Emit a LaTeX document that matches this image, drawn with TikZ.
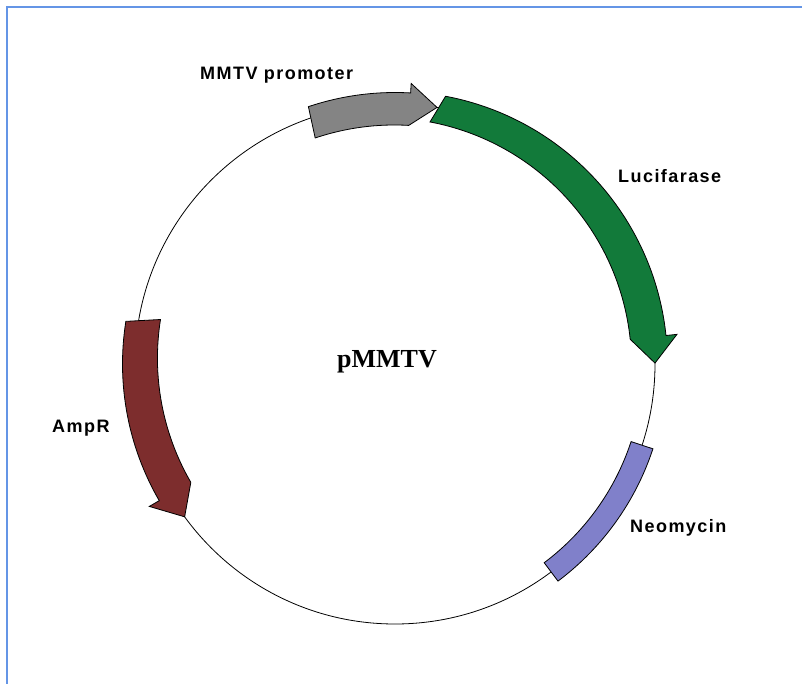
\documentclass[tikz,border=0pt]{standalone}
\usepackage{fontspec}
\newfontfamily\labfont[LetterSpace=8]{Liberation Sans}
\newfontfamily\serfont{Liberation Serif}
\definecolor{framecol}{RGB}{100,149,230}
\definecolor{promgray}{RGB}{132,132,132}
\definecolor{lucgreen}{RGB}{18,122,58}
\definecolor{ampred}{RGB}{125,45,45}
\definecolor{neoblue}{RGB}{128,128,202}
\tikzset{
  genelabel/.style={font=\labfont\bfseries\fontsize{18}{20}\selectfont, inner sep=0pt, anchor=base west},
  titlelabel/.style={font=\serfont\bfseries\fontsize{26}{28}\selectfont, inner sep=0pt, anchor=base},
  genepart/.style={draw=black, line width=0.8pt, line join=miter},
  backbone/.style={draw=black, line width=0.8pt},
  framerule/.style={draw=framecol, line width=1.5pt}
}
% #1 start angle, #2 head base angle, #3 tip angle, #4 half body width, #5 half head width, #6 colour
\newcommand\plasarrow[6]{%
  \filldraw[genepart, fill=#6]
    ({#1}:{(260+#4)*1pt}) arc[start angle={#1}, end angle={#2}, radius={(260+#4)*1pt}]
    -- ({#2}:{(260+#5)*1pt}) -- ({#3}:260pt) -- ({#2}:{(260-#5)*1pt})
    arc[start angle={#2}, end angle={#1}, radius={(260-#4)*1pt}] -- cycle;}
\newcommand\plasbox[4]{%
  \filldraw[genepart, fill=#4]
    ({#1}:{(260+#3)*1pt}) arc[start angle={#1}, end angle={#2}, radius={(260+#3)*1pt}]
    -- ({#2}:{(260-#3)*1pt})
    arc[start angle={#2}, end angle={#1}, radius={(260-#3)*1pt}] -- cycle;}
\begin{document}
\begin{tikzpicture}[x=1pt,y=1pt]
  \useasboundingbox[fill=white] (-395,-320) rectangle (407,364);
  \draw[framerule] (-388,-320) -- (-388,357) -- (407,357);
  \draw[backbone] (0,0) circle[radius=260pt];
  \plasarrow{108.6}{86.7}{80.7}{11.5}{21}{promgray}
  \plasarrow{79.3}{6}{0.2}{12.5}{23.5}{lucgreen}
  \plasbox{-18.2}{-53.1}{11.5}{neoblue}
  \plasarrow{171}{210.1}{216}{12.5}{24}{ampred}
  \node[genelabel] (mmtv) at (-195,284) {MMTV promoter};
  \node[genelabel] (luc) at (223,181) {Lucifarase};
  \node[genelabel] (neo) at (235,-169) {Neomycin};
  \node[genelabel] (amp) at (-343,-69) {AmpR};
  \node[titlelabel] (title) at (-8,-4) {pMMTV};
\end{tikzpicture}
\end{document}
